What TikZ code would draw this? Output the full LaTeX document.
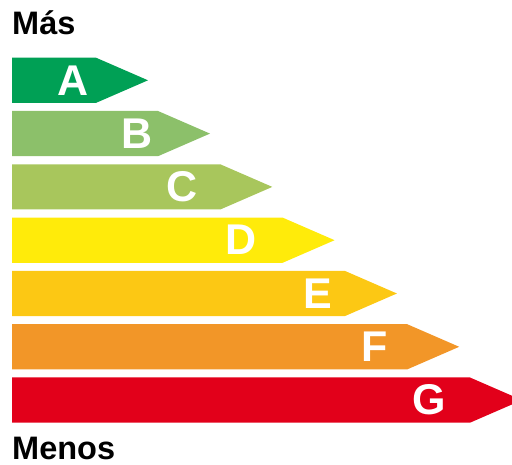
\documentclass[tikz,border=0pt]{standalone}
\usepackage{fontspec}
\setmainfont{Liberation Sans}
\definecolor{cA}{RGB}{0,160,85}
\definecolor{cB}{RGB}{140,192,106}
\definecolor{cC}{RGB}{168,198,92}
\definecolor{cD}{RGB}{255,235,10}
\definecolor{cE}{RGB}{252,200,20}
\definecolor{cF}{RGB}{242,150,40}
\definecolor{cG}{RGB}{226,0,26}
\tikzset{
  letter/.style={text=white, font=\fontsize{43}{43}\selectfont\bfseries, inner sep=0pt, anchor=center},
  heading/.style={text=black, font=\fontsize{32.5}{32.5}\selectfont\bfseries, inner sep=0pt, anchor=base west}
}
\begin{document}
\begin{tikzpicture}[x=1pt,y=-1pt]
\useasboundingbox (0,0) rectangle (512,465);
\node[heading] (mas) at (12,35) {Más};
\foreach \n/\c/\top/\sh/\lx in {A/cA/57.7/96/73, B/cB/111/158/137.5, C/cC/164.3/220.3/182.5, D/cD/217.6/282.6/241.5, E/cE/270.9/344.9/317.5, F/cF/324.2/407.2/375, G/cG/377.5/470/429}{
  \fill[\c] (12,\top) -- (\sh,\top) -- (\sh+52,\top+22.6) -- (\sh,\top+45.2) -- (12,\top+45.2) -- cycle;
  \node[letter] (l\n) at (\lx,\top+22.6) {\n};
}
\node[heading] (menos) at (12,459.5) {Menos};
\end{tikzpicture}
\end{document}
